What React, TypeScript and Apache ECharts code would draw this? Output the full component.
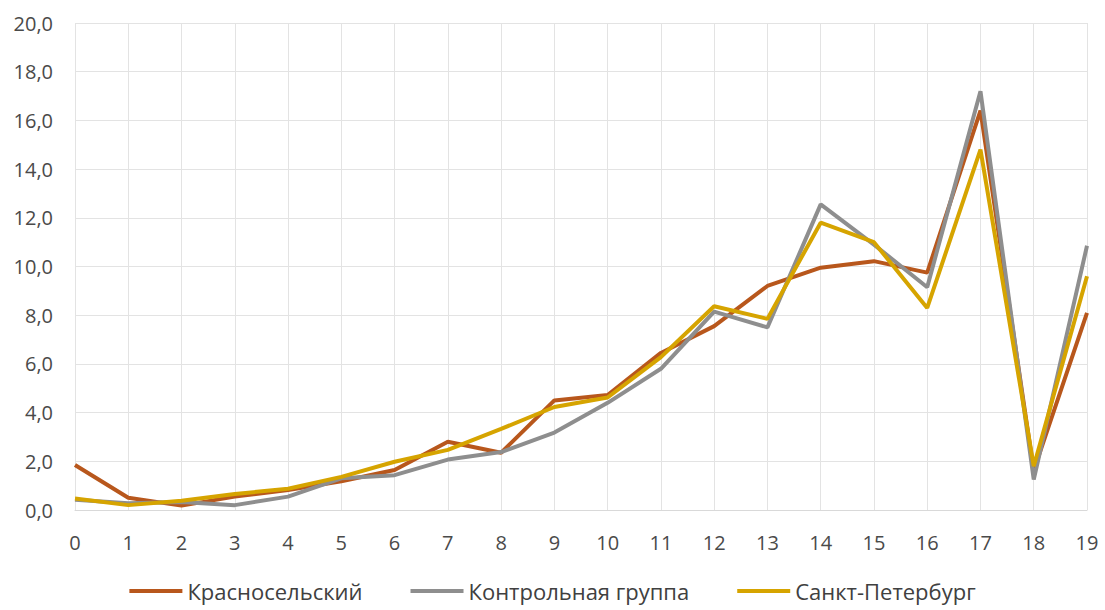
import React, { useEffect, useRef } from "react";
import * as echarts from "echarts";

const categories = ["0","1","2","3","4","5","6","7","8","9","10","11","12","13","14","15","16","17","18","19"];
const krasnoselsky = [1.85, 0.5, 0.18, 0.55, 0.82, 1.18, 1.64, 2.8, 2.35, 4.5, 4.72, 6.45, 7.55, 9.2, 9.95, 10.22, 9.75, 16.4, 1.62, 8.1];
const control = [0.42, 0.28, 0.33, 0.2, 0.55, 1.3, 1.43, 2.07, 2.38, 3.18, 4.4, 5.8, 8.15, 7.5, 12.55, 10.9, 9.15, 17.2, 1.25, 10.85];
const spb = [0.47, 0.2, 0.38, 0.66, 0.87, 1.36, 1.98, 2.47, 3.33, 4.23, 4.62, 6.28, 8.37, 7.85, 11.8, 11.0, 8.3, 14.8, 1.8, 9.6];
const seriesNames = ["Красносельский", "Контрольная группа", "Санкт-Петербург"];
const colors = ["#B8571C", "#8E8E8E", "#D6A400"];

export default function App() {
  const ref = useRef<HTMLDivElement>(null);
  useEffect(() => {
    if (!ref.current) return;
    const chart = echarts.init(ref.current, undefined, { renderer: "svg" });
    const font = "'Open Sans', 'Noto Sans', sans-serif";
    const data = [krasnoselsky, control, spb];
    chart.setOption({
      animation: false,
      backgroundColor: "#ffffff",
      grid: { left: 75, right: 18, top: 23, bottom: 100, containLabel: false },
      legend: {
        bottom: 3,
        left: "center",
        icon: "rect",
        itemWidth: 53,
        itemHeight: 4,
        itemGap: 48,
        textStyle: { fontFamily: font, fontSize: 22, color: "#404040" },
        data: seriesNames,
      },
      xAxis: {
        type: "category",
        data: categories,
        boundaryGap: false,
        axisLine: { show: true, lineStyle: { color: "#D9D9D9", width: 1 } },
        axisTick: { show: false },
        splitLine: { show: true, lineStyle: { color: "#E3E3E3", width: 1 } },
        axisLabel: { color: "#4a4a4a", fontFamily: font, fontSize: 20, margin: 22 },
      },
      yAxis: {
        type: "value",
        min: 0,
        max: 20,
        interval: 2,
        axisLine: { show: false },
        axisTick: { show: false },
        splitLine: { show: true, lineStyle: { color: "#E3E3E3", width: 1 } },
        axisLabel: {
          color: "#4a4a4a",
          fontFamily: font,
          fontSize: 20,
          margin: 22,
          formatter: (v: number) => v.toFixed(1).replace(".", ","),
        },
      },
      series: seriesNames.map((name, i) => ({
        name,
        type: "line",
        data: data[i],
        showSymbol: false,
        symbol: "none",
        lineStyle: { color: colors[i], width: 4 },
        itemStyle: { color: colors[i] },
      })),
    });
    return () => chart.dispose();
  }, []);
  return (
    <div
      ref={ref}
      style={{ position: "fixed", left: 0, top: 0, width: 1105, height: 610, background: "#fff" }}
    />
  );
}
